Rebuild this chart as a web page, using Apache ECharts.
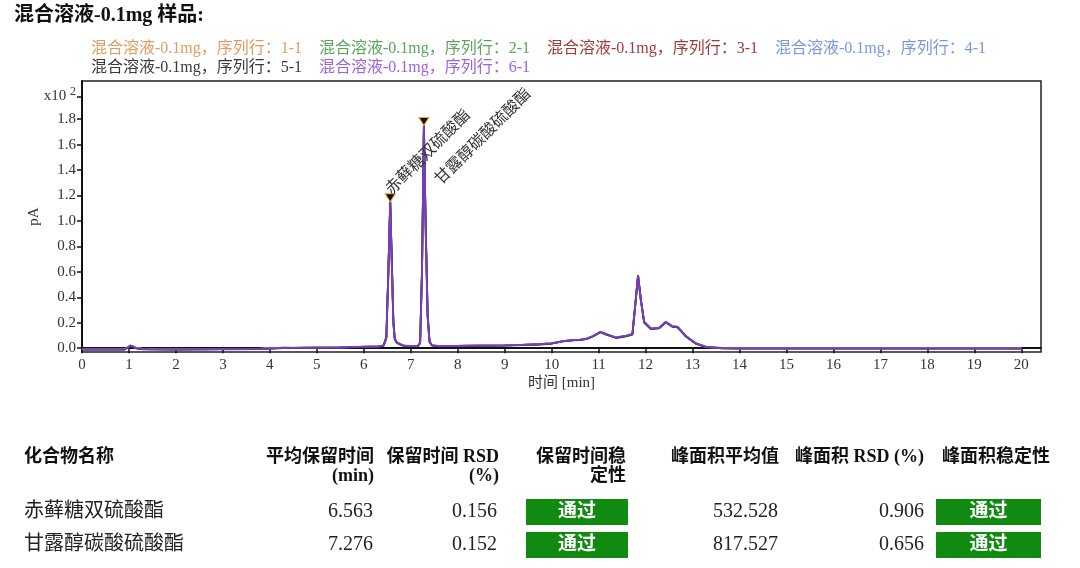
<!DOCTYPE html>
<html>
<head>
<meta charset="utf-8">
<script src="https://cdn.jsdelivr.net/npm/echarts@6/dist/echarts.min.js"></script>
<style>
html,body{margin:0;padding:0;background:#fff;}
#main{width:1080px;height:568px;}
</style>
</head>
<body>
<div id="main"></div>
<script>
// 保留时间 (min)
const times = [0, 0.5, 0.9, 0.97, 1.03, 1.08, 1.15, 1.3, 2, 3,
  3.8, 4.3, 4.5, 5, 5.5, 5.9, 6.1, 6.3, 6.42, 6.48,
  6.52, 6.563, 6.6, 6.63, 6.66, 6.7, 6.78, 6.86, 7, 7.15,
  7.2, 7.24, 7.28, 7.32, 7.36, 7.4, 7.45, 7.6, 8, 8.5,
  9, 9.4, 9.74, 10, 10.25, 10.46, 10.6, 10.74, 10.88, 11.04,
  11.16, 11.37, 11.58, 11.72, 11.79, 11.84, 11.9, 11.97, 12.11, 12.29,
  12.43, 12.57, 12.68, 12.86, 13.07, 13.29, 13.64, 14, 17, 20];

// 信号 (x10^2 pA), 每个序列行一组
const run1 = [-0.008, -0.008, -0.008, 0.006, 0.022, 0.016, 0.002, -0.006, -0.008, -0.006,
  -0.004, 0.005, 0.004, 0.007, 0.008, 0.012, 0.014, 0.015, 0.022, 0.07,
  0.52, 1.14, 0.64, 0.21, 0.075, 0.047, 0.032, 0.02, 0.018, 0.018,
  0.038, 0.58, 1.74, 0.92, 0.26, 0.052, 0.024, 0.018, 0.019, 0.022,
  0.024, 0.028, 0.033, 0.039, 0.057, 0.065, 0.068, 0.075, 0.096, 0.13,
  0.112, 0.085, 0.098, 0.112, 0.37, 0.565, 0.38, 0.21, 0.156, 0.161,
  0.208, 0.174, 0.169, 0.096, 0.039, 0.012, 0.002, 0.0, 0.0, 0.0];
const run2 = [-0.009, -0.009, -0.009, 0.005, 0.021, 0.015, 0.001, -0.007, -0.009, -0.007,
  -0.005, 0.004, 0.003, 0.006, 0.007, 0.011, 0.013, 0.014, 0.021, 0.075,
  0.54, 1.15, 0.63, 0.2, 0.072, 0.046, 0.031, 0.019, 0.017, 0.017,
  0.039, 0.59, 1.75, 0.91, 0.25, 0.051, 0.023, 0.017, 0.018, 0.021,
  0.023, 0.027, 0.032, 0.038, 0.056, 0.064, 0.067, 0.074, 0.095, 0.129,
  0.111, 0.084, 0.097, 0.111, 0.372, 0.57, 0.378, 0.208, 0.155, 0.16,
  0.207, 0.173, 0.168, 0.095, 0.038, 0.011, 0.001, -0.001, -0.001, -0.001];
const run3 = [-0.01, -0.01, -0.01, 0.004, 0.02, 0.014, 0.0, -0.008, -0.01, -0.008,
  -0.006, 0.003, 0.002, 0.005, 0.006, 0.01, 0.012, 0.013, 0.02, 0.085,
  0.56, 1.16, 0.61, 0.19, 0.068, 0.044, 0.03, 0.018, 0.016, 0.016,
  0.041, 0.61, 1.76, 0.89, 0.24, 0.049, 0.022, 0.016, 0.017, 0.02,
  0.022, 0.026, 0.031, 0.037, 0.055, 0.063, 0.066, 0.073, 0.094, 0.127,
  0.109, 0.082, 0.095, 0.109, 0.378, 0.575, 0.372, 0.205, 0.153, 0.158,
  0.205, 0.171, 0.166, 0.093, 0.036, 0.009, -0.001, -0.002, -0.002, -0.002];
const run4 = [-0.009, -0.009, -0.009, 0.005, 0.021, 0.015, 0.001, -0.007, -0.009, -0.007,
  -0.005, 0.004, 0.003, 0.006, 0.007, 0.011, 0.013, 0.014, 0.021, 0.078,
  0.545, 1.15, 0.625, 0.2, 0.071, 0.046, 0.031, 0.019, 0.017, 0.017,
  0.04, 0.595, 1.74, 0.905, 0.252, 0.051, 0.023, 0.017, 0.018, 0.021,
  0.023, 0.027, 0.032, 0.038, 0.056, 0.064, 0.067, 0.074, 0.095, 0.128,
  0.11, 0.084, 0.097, 0.11, 0.374, 0.568, 0.376, 0.207, 0.155, 0.16,
  0.206, 0.173, 0.168, 0.095, 0.038, 0.011, 0.001, -0.001, -0.001, -0.001];
const run5 = [-0.012, -0.012, -0.012, 0.003, 0.018, 0.013, -0.002, -0.01, -0.012, -0.01,
  -0.008, 0.001, 0.0, 0.003, 0.004, 0.008, 0.01, 0.011, 0.019, 0.09,
  0.57, 1.155, 0.66, 0.22, 0.074, 0.043, 0.028, 0.016, 0.014, 0.014,
  0.045, 0.63, 1.76, 0.95, 0.27, 0.055, 0.02, 0.014, 0.015, 0.018,
  0.02, 0.024, 0.029, 0.035, 0.053, 0.061, 0.064, 0.071, 0.092, 0.125,
  0.107, 0.08, 0.093, 0.107, 0.38, 0.572, 0.385, 0.2, 0.15, 0.155,
  0.203, 0.168, 0.163, 0.091, 0.035, 0.008, -0.002, -0.003, -0.003, -0.003];
const run6 = [-0.01, -0.01, -0.01, 0.005, 0.02, 0.015, 0.0, -0.008, -0.01, -0.008,
  -0.006, 0.003, 0.002, 0.005, 0.006, 0.01, 0.012, 0.013, 0.02, 0.08,
  0.55, 1.15, 0.62, 0.2, 0.07, 0.045, 0.03, 0.018, 0.016, 0.016,
  0.04, 0.6, 1.75, 0.9, 0.25, 0.05, 0.022, 0.016, 0.017, 0.02,
  0.022, 0.026, 0.031, 0.037, 0.055, 0.063, 0.066, 0.073, 0.094, 0.128,
  0.11, 0.083, 0.096, 0.11, 0.375, 0.571, 0.375, 0.206, 0.154, 0.159,
  0.206, 0.172, 0.167, 0.094, 0.037, 0.01, 0.0, -0.002, -0.002, -0.002];

const runNames = ['混合溶液-0.1mg，序列行：1-1', '混合溶液-0.1mg，序列行：2-1', '混合溶液-0.1mg，序列行：3-1',
  '混合溶液-0.1mg，序列行：4-1', '混合溶液-0.1mg，序列行：5-1', '混合溶液-0.1mg，序列行：6-1'];
const runs = [run1, run2, run3, run4, run5, run6];
const lineColors = ['#e8a060', '#5cb05c', '#a83434', '#7b96e0', '#333333', '#7a3cc8'];
const legendColors = ['#e39b62', '#5aa55a', '#a33a3a', '#7b96e0', '#3a3a3a', '#9d62e0'];

// 峰标记
const peakNames = ['赤藓糖双硫酸酯', '甘露醇碳酸硫酸酯'];
const peakTimes = [6.563, 7.28];
const peakHeights = [1.15, 1.75];

const xTicks = [0, 1, 2, 3, 4, 5, 6, 7, 8, 9, 10, 11, 12, 13, 14, 15, 16, 17, 18, 19, 20];
const yTicks = [0, 0.2, 0.4, 0.6, 0.8, 1.0, 1.2, 1.4, 1.6, 1.8, 1.98];

// 结果表
const tableHeaders = ['化合物名称', '平均保留时间\n(min)', '保留时间 RSD\n(%)', '保留时间稳\n定性',
  '峰面积平均值', '峰面积 RSD (%)', '峰面积稳定性'];
const compoundNames = ['赤藓糖双硫酸酯', '甘露醇碳酸硫酸酯'];
const avgRetention = ['6.563', '7.276'];
const retentionRsd = ['0.156', '0.152'];
const retentionStable = ['通过', '通过'];
const avgArea = ['532.528', '817.527'];
const areaRsd = ['0.906', '0.656'];
const areaStable = ['通过', '通过'];

const FONT = "'Liberation Serif', 'Noto Sans CJK SC', serif";

var myChart = echarts.init(document.getElementById('main'));

let series = [];
for (let i = 0; i < runs.length; i++) {
    series.push({
        name: runNames[i],
        type: 'line',
        showSymbol: false,
        silent: true,
        color: lineColors[i],
        lineStyle: { width: 1.8, color: lineColors[i] },
        data: times.map((t, k) => [t, runs[i][k]])
    });
}
// 峰标记画在最上面那条线上 (label offset 在旋转后的坐标系里)
series[5].markPoint = {
    symbol: 'triangle',
    symbolRotate: 180,
    symbolSize: [10, 8],
    symbolOffset: [0, -4],
    itemStyle: { color: '#111', borderColor: '#f0a040', borderWidth: 1 },
    label: {
        show: true,
        formatter: '{b}',
        position: 'inside',
        align: 'left',
        verticalAlign: 'bottom',
        rotate: 45,
        fontSize: 16,
        fontFamily: FONT,
        color: '#333'
    },
    data: [
        { name: peakNames[0], coord: [peakTimes[0], peakHeights[0]], label: { offset: [3, 3] } },
        { name: peakNames[1], coord: [peakTimes[1], peakHeights[1]], label: { offset: [-33, 61] } }
    ]
};

// 表格
const colX = [24, 374, 499, 626, 779, 924, 1050];
const cellStyle = { fontFamily: FONT, fontSize: 20, fill: '#222', verticalAlign: 'middle' };
const rowY = [512, 545];
let graphics = [];
tableHeaders.forEach((h, c) => {
    graphics.push({
        type: 'text', x: colX[c], y: 448,
        style: { text: h, fontFamily: FONT, fontSize: 18, fontWeight: 'bold', lineHeight: 19,
                 fill: '#111', align: c === 0 ? 'left' : 'right', verticalAlign: 'top' }
    });
});
const passBoxes = [[526, 102], [936, 105]];
for (let r = 0; r < compoundNames.length; r++) {
    const y = rowY[r];
    graphics.push({ type: 'text', x: colX[0], y: y, style: Object.assign({ text: compoundNames[r], align: 'left' }, cellStyle) });
    graphics.push({ type: 'text', x: colX[1] - 1, y: y, style: Object.assign({ text: avgRetention[r], align: 'right' }, cellStyle) });
    graphics.push({ type: 'text', x: colX[2] - 2, y: y, style: Object.assign({ text: retentionRsd[r], align: 'right' }, cellStyle) });
    graphics.push({ type: 'text', x: colX[4] - 1, y: y, style: Object.assign({ text: avgArea[r], align: 'right' }, cellStyle) });
    graphics.push({ type: 'text', x: colX[5], y: y, style: Object.assign({ text: areaRsd[r], align: 'right' }, cellStyle) });
    [retentionStable[r], areaStable[r]].forEach((txt, j) => {
        const bx = passBoxes[j][0], bw = passBoxes[j][1];
        graphics.push({ type: 'rect', shape: { x: bx, y: y - 13, width: bw, height: 26 }, style: { fill: '#108a10' } });
        graphics.push({ type: 'text', x: bx + bw / 2, y: y, style: { text: txt, fontFamily: FONT, fontSize: 19, fontWeight: 'bold',
            fill: '#fff', align: 'center', verticalAlign: 'middle' } });
    });
}

var option = {
    animation: false,
    backgroundColor: '#fff',
    title: {
        text: '混合溶液-0.1mg 样品:',
        left: 9,
        top: 1,
        textStyle: { fontFamily: FONT, fontSize: 20, fontWeight: 'bold', color: '#111' }
    },
    legend: {
        left: 81,
        top: 35,
        width: 950,
        icon: 'none',
        itemWidth: 0,
        itemHeight: 14,
        itemGap: 1,
        selectedMode: false,
        textStyle: { fontFamily: FONT, fontSize: 16, lineHeight: 18, width: 222 },
        data: runNames.map((n, i) => ({ name: n, textStyle: { color: legendColors[i] } }))
    },
    grid: {
        left: 82,
        right: 39,
        top: 81,
        bottom: 216,
        show: true,
        borderColor: '#222',
        borderWidth: 1.5
    },
    xAxis: {
        type: 'value',
        min: 0,
        max: 20.42,
        name: '时间 [min]',
        nameLocation: 'middle',
        nameGap: 24,
        nameTextStyle: { fontFamily: FONT, fontSize: 15, color: '#333' },
        axisLine: { lineStyle: { color: '#111', width: 2 } },
        axisTick: { length: 5, lineStyle: { color: '#111', width: 1.5 }, customValues: xTicks },
        axisLabel: { customValues: xTicks, margin: 6, fontFamily: FONT, fontSize: 15, color: '#333' },
        splitLine: { show: false }
    },
    yAxis: {
        type: 'value',
        min: -0.03,
        max: 2.1,
        name: 'pA',
        nameLocation: 'middle',
        nameRotate: 90,
        nameGap: 40,
        nameMoveOverlap: false,
        nameTextStyle: { fontFamily: FONT, fontSize: 15, color: '#333' },
        axisLine: { show: true, lineStyle: { color: '#111', width: 2 } },
        axisTick: { show: true, length: 5, lineStyle: { color: '#111', width: 1.5 }, customValues: yTicks },
        axisLabel: {
            customValues: yTicks,
            margin: 6,
            fontFamily: FONT,
            fontSize: 15,
            color: '#333',
            formatter: function (v) {
                if (v > 1.9) return '{b|x10 }{sup|2}';
                return v.toFixed(1);
            },
            rich: {
                b: { fontFamily: FONT, fontSize: 15, color: '#333' },
                sup: { fontFamily: FONT, fontSize: 12, color: '#333', padding: [0, 0, 9, 0] }
            }
        },
        splitLine: { show: false }
    },
    graphic: graphics,
    series: series
};
myChart.setOption(option);
</script>
</body>
</html>
